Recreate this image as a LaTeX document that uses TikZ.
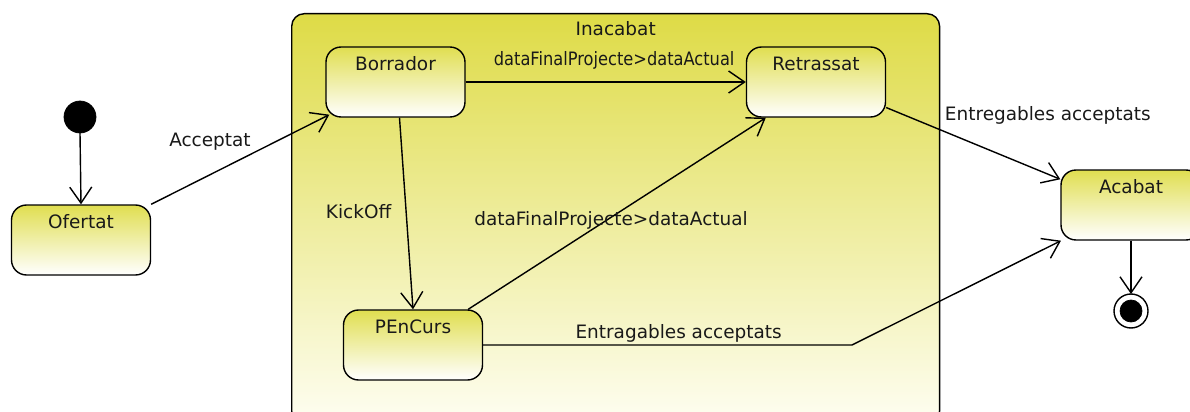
\documentclass[tikz,border=0pt]{standalone}
\usepackage{fontspec}
\setmainfont{DejaVu Sans}
\usepackage{xcolor}
\usetikzlibrary{arrows, arrows.meta}
\usetikzlibrary{positioning}
\usetikzlibrary{calc}

\definecolor{stateyellow}{RGB}{224,222,80}
\definecolor{compyellow}{RGB}{222,219,70}
\definecolor{compwhite}{RGB}{254,254,242}

\tikzset{
	state/.style={rectangle, draw, thick, rounded corners=0.3cm, minimum width=2.78cm,
		inner ysep=0.08cm, text height=0.38cm, text depth=0.86cm,
		top color=stateyellow, bottom color=white},
	trans/.style={draw, thick, -{Straight Barb[length=3.2mm,width=4.4mm]}},
}

\begin{document}
\begin{tikzpicture}[x=0.02cm, y=-0.02cm, font=\fontsize{10.5}{12}\selectfont, text=black!90]
			\useasboundingbox (0,0) rectangle (1190,412);
			%composite state
			\node[state, rounded corners=0.25cm, minimum width=12.96cm, text height=0.36cm, text depth=7.68cm,
				top color=compyellow, bottom color=compwhite, anchor=north west] (inacabat) at (291,13) {Inacabat};
			
			% states
			\filldraw[black] (80,117) circle (16) node (ini) {};
			\coordinate (inibot) at (80,133);
			\node[state] (ofertat) at (81,240) {Ofertat};
			\node[state] (borrador) at (395.5,82) {Borrador};
			\node[state] (retrassat) at (816,82) {Retrassat};
			\node[state] (pencurs) at (413,345) {PEnCurs};
			\node[state, minimum width=2.8cm] (acabat) at (1131,205) {Acabat};
			\draw[thick, fill=white] (1131,311) circle (17) node (fin) {};
			\filldraw[black] (1131,311) circle (11);
			\coordinate (fintop) at (1131,294);
			\coordinate (bend) at (852,345);
			
			% add arrow
			\draw[trans] (inibot) -- (ofertat.north);
			\draw[trans] (ofertat.north east) -- node[pos=0.33, yshift=0.66cm] {Acceptat} ($(borrador.south west)+(4,-3)$);
			\draw[trans] (borrador.east) -- node[pos=0.53, yshift=0.44cm] {\scalebox{0.88}[1]{dataFinalProjecte>dataActual}} (retrassat.west);
			\draw[trans] ($(borrador.south)+(4,0)$) -- node[pos=0.49, xshift=-0.95cm] {KickOff} (pencurs.north);
			\draw[trans] ($(pencurs.north east)+(-15,0)$) -- node[pos=0.48, yshift=-0.06cm] {dataFinalProjecte>dataActual} ($(retrassat.south west)+(20,0)$);
			\draw[trans] (retrassat.-20) -- node[pos=0.9, xshift=0.1cm, yshift=1.14cm] {Entregables acceptats} (acabat.160);
			\draw[trans] (pencurs.east) -- node[pos=0.53, yshift=0.24cm] {Entragables acceptats} (bend) -- (acabat.207);
			\draw[trans] (acabat.south) -- (fintop);
			
		\end{tikzpicture}
\end{document}
